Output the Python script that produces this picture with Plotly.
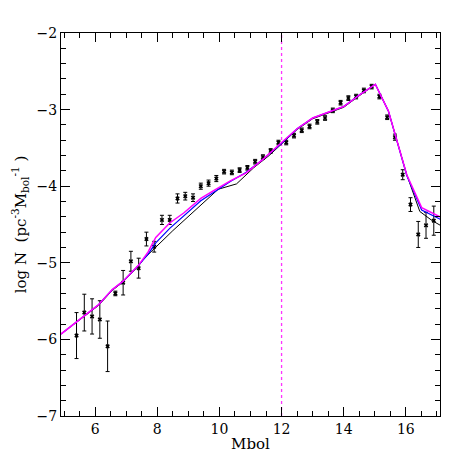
import plotly.graph_objects as go

# observed luminosity function (points with error bars)
mbol_obs = [5.4, 5.65, 5.9, 6.15, 6.4, 6.65, 6.9, 7.15, 7.4, 7.65, 7.9, 8.15,
            8.4, 8.65, 8.9, 9.15, 9.4, 9.65, 9.9, 10.15, 10.4, 10.65, 10.9,
            11.15, 11.4, 11.65, 11.9, 12.15, 12.4, 12.65, 12.9, 13.15, 13.4,
            13.65, 13.9, 14.15, 14.4, 14.65, 14.9, 15.15, 15.4, 15.65, 15.9,
            16.15, 16.4, 16.65, 16.9]
logn_obs = [-5.95, -5.65, -5.70, -5.74, -6.09, -5.40, -5.26, -4.98, -5.07,
            -4.69, -4.79, -4.44, -4.44, -4.16, -4.13, -4.15, -4.00, -3.96,
            -3.90, -3.81, -3.82, -3.79, -3.76, -3.68, -3.62, -3.54, -3.43,
            -3.43, -3.34, -3.27, -3.22, -3.16, -3.11, -3.01, -2.91, -2.85,
            -2.83, -2.75, -2.70, -2.83, -3.10, -3.36, -3.85, -4.24, -4.63,
            -4.51, -4.45]
err_obs = [0.30, 0.24, 0.23, 0.245, 0.33, 0.03, 0.16, 0.13, 0.13, 0.09, 0.07,
           0.06, 0.06, 0.06, 0.05, 0.05, 0.04, 0.04, 0.04, 0.03, 0.03, 0.03,
           0.03, 0.03, 0.03, 0.03, 0.03, 0.03, 0.03, 0.03, 0.03, 0.03, 0.03,
           0.03, 0.03, 0.03, 0.03, 0.03, 0.03, 0.03, 0.03, 0.04, 0.065, 0.09,
           0.17, 0.17, 0.19]

# model curves
mbol_black = [4.9, 5.9, 6.1, 6.55, 6.9, 7.4, 7.56, 8.5, 9.96, 10.55, 11.1,
              11.6, 12.0, 12.5, 13.0, 13.5, 14.0, 14.5, 15.02, 15.44, 16.03,
              16.45, 16.85, 17.15]
logn_black = [-5.93, -5.62, -5.56, -5.36, -5.25, -5.04, -4.95, -4.58, -4.04,
              -3.97, -3.76, -3.60, -3.45, -3.26, -3.12, -3.05, -2.97, -2.82,
              -2.67, -3.02, -3.85, -4.33, -4.45, -4.52]

mbol_blue = [4.9, 5.9, 6.1, 6.55, 6.9, 7.4, 7.7, 7.95, 8.4, 9.4, 9.8, 10.35,
             10.85, 11.4, 12.0, 12.5, 13.0, 13.5, 14.0, 14.5, 15.02, 15.44,
             16.03, 16.51, 17.15]
logn_blue = [-5.93, -5.61, -5.55, -5.35, -5.24, -5.03, -4.89, -4.74, -4.55,
             -4.19, -4.08, -3.94, -3.82, -3.65, -3.44, -3.25, -3.11, -3.04,
             -2.96, -2.81, -2.67, -3.02, -3.86, -4.31, -4.44]

mbol_mag = [4.9, 5.9, 6.1, 6.55, 6.9, 7.4, 7.7, 7.95, 8.4, 8.85, 9.4, 9.8,
            10.35, 10.85, 11.4, 12.0, 12.5, 13.0, 13.5, 14.0, 14.5, 15.02,
            15.44, 16.03, 16.51, 17.15]
logn_mag = [-5.93, -5.61, -5.55, -5.35, -5.24, -5.03, -4.86, -4.67, -4.48,
            -4.35, -4.16, -4.06, -3.93, -3.83, -3.65, -3.43, -3.25, -3.11,
            -3.04, -2.96, -2.81, -2.67, -3.02, -3.85, -4.28, -4.41]

mbol_cut = 12.0

serif = "DejaVu Serif, Liberation Serif, serif"

fig = go.Figure()

# dotted cut line at Mbol = 12
fig.add_trace(go.Scatter(
    x=[mbol_cut, mbol_cut], y=[-7, -2], mode="lines",
    line=dict(color="#ff33ff", width=1.3, dash="dot"),
))
fig.add_trace(go.Scatter(
    x=mbol_obs, y=logn_obs, mode="markers",
    marker=dict(symbol="x", size=4, color="black"),
    error_y=dict(type="data", array=err_obs, color="black",
                 thickness=1, width=2),
))
fig.add_trace(go.Scatter(x=mbol_black, y=logn_black, mode="lines",
                         line=dict(color="black", width=1)))
fig.add_trace(go.Scatter(x=mbol_blue, y=logn_blue, mode="lines",
                         line=dict(color="#0000ff", width=1.2)))
fig.add_trace(go.Scatter(x=mbol_mag, y=logn_mag, mode="lines",
                         line=dict(color="#ff00ff", width=1.5)))

axis_common = dict(
    showgrid=False, zeroline=False, showline=True, linecolor="black",
    linewidth=1, mirror="allticks", ticks="inside", tickcolor="black",
    tickfont=dict(family=serif, size=14, color="black"),
)

fig.update_layout(
    width=457, height=457,
    margin=dict(l=50, r=25, t=25, b=49),
    plot_bgcolor="white", paper_bgcolor="white",
    showlegend=False,
    font=dict(family=serif, color="black"),
    xaxis=dict(
        range=[4.9, 17.1], dtick=2, ticklen=9,
        minor=dict(dtick=0.5, ticks="inside", ticklen=5, tickcolor="black"),
        title=dict(text="Mbol", font=dict(family=serif, size=15),
                   standoff=2),
        **axis_common,
    ),
    yaxis=dict(
        range=[-7, -2], dtick=1, ticklen=9,
        minor=dict(dtick=0.2, ticks="inside", ticklen=5, tickcolor="black"),
        title=dict(text="log N  (pc<sup>-3</sup>M<sub>bol</sub><sup>-1</sup> )",
                   font=dict(family=serif, size=15), standoff=6),
        **axis_common,
    ),
)

fig.write_html("out.html")
